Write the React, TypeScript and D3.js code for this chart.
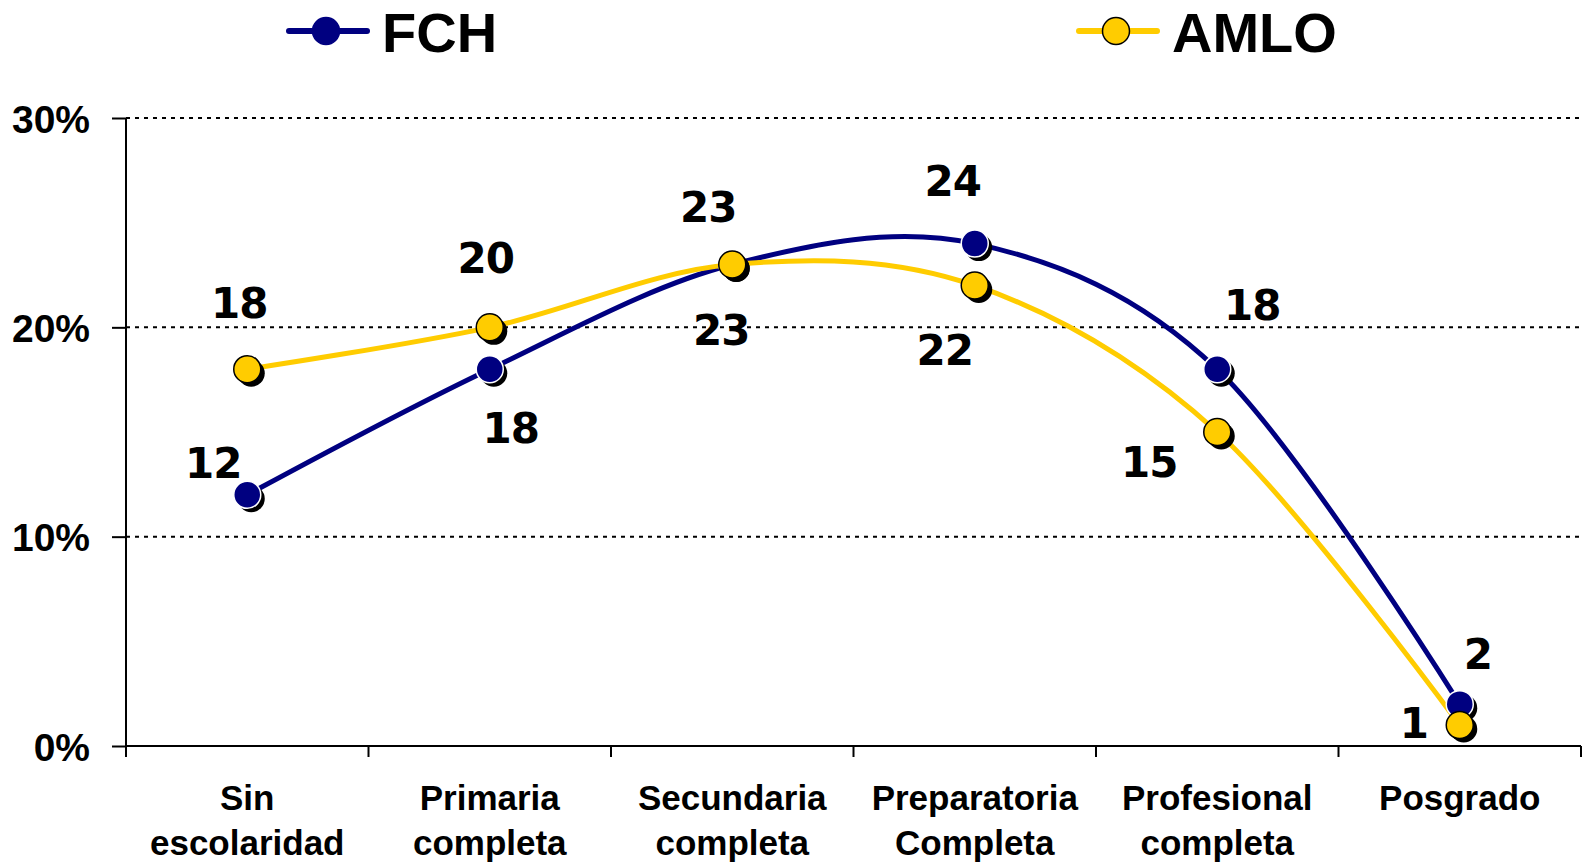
import * as d3 from "d3";
import { useEffect, useRef } from "react";

// datos del grafico
const categories = [
    ["Sin", "escolaridad"],
    ["Primaria", "completa"],
    ["Secundaria", "completa"],
    ["Preparatoria", "Completa"],
    ["Profesional", "completa"],
    ["Posgrado"]
];
const fchValues = [12, 18, 23, 24, 18, 2];
const amloValues = [18, 20, 23, 22, 15, 1];
const yTicks = [0, 10, 20, 30];

// desplazamiento de las etiquetas respecto al punto (centro del texto)
const fchLabelOffsets = [[-34, -33], [21, 58], [-11, 64], [-22, -64], [35, -65], [18, -51]];
const amloLabelOffsets = [[-8, -67], [-4, -70], [-24, -59], [-30, 64], [-68, 29], [-46, -3]];

const WIDTH = 1583;
const HEIGHT = 863;

const App = () => {
    const chartRef = useRef<SVGSVGElement | null>(null);

    useEffect(() => {
        document.body.style.margin = "0";
        const svg = d3.select(chartRef.current);
        svg.selectAll("*").remove();

        const left = 126;
        const right = 1581;
        const top = 118;
        const bottom = 746;

        const scaleX = d3
            .scaleBand()
            .domain(categories.map(d => d.join(" ")))
            .range([left, right]);
        const scaleY = d3.scaleLinear().domain([0, 30]).range([bottom, top]);
        const cx = (i: number) => scaleX(categories[i].join(" "))! + scaleX.bandwidth() / 2;

        const axisFont = "'Liberation Sans', Arial, sans-serif";

        // lineas de cuadricula punteadas
        svg.selectAll("line.grid")
            .data(yTicks.filter(t => t > 0))
            .enter()
            .append("line")
            .attr("x1", left)
            .attr("x2", right)
            .attr("y1", d => scaleY(d))
            .attr("y2", d => scaleY(d))
            .style("stroke", "#000")
            .style("stroke-width", 2)
            .style("stroke-dasharray", "4,5");

        // eje Y
        const yAxis = d3.axisLeft(scaleY)
            .tickValues(yTicks)
            .tickSize(14)
            .tickPadding(22)
            .tickFormat(d => `${d}%`);
        const gy = svg.append("g").attr("transform", `translate(${left},0)`).call(yAxis);
        gy.select(".domain").remove();
        gy.selectAll("line").style("stroke", "#000").style("stroke-width", 2);
        gy.selectAll("text")
            .style("font-family", axisFont)
            .style("font-weight", "bold")
            .style("font-size", "39px")
            .attr("dy", "0.36em")
            .style("fill", "#000");
        svg.append("line")
            .attr("x1", left).attr("x2", left)
            .attr("y1", top).attr("y2", bottom + 11)
            .style("stroke", "#000").style("stroke-width", 2);

        // eje X
        svg.append("line")
            .attr("x1", left).attr("x2", right)
            .attr("y1", bottom).attr("y2", bottom)
            .style("stroke", "#000").style("stroke-width", 2);
        const boundaries = categories.map((_, i) => scaleX(categories[i].join(" "))!).concat([right]);
        svg.selectAll("line.xtick")
            .data(boundaries)
            .enter()
            .append("line")
            .attr("x1", d => d).attr("x2", d => d)
            .attr("y1", bottom).attr("y2", bottom + 11)
            .style("stroke", "#000").style("stroke-width", 2);

        categories.forEach((lines, i) => {
            const t = svg.append("text")
                .attr("x", cx(i))
                .attr("y", 810)
                .attr("text-anchor", "middle")
                .style("font-family", axisFont)
                .style("font-weight", "bold")
                .style("font-size", "35px")
                .style("fill", "#000");
            lines.forEach((l, j) => {
                t.append("tspan").attr("x", cx(i)).attr("dy", j === 0 ? 0 : 45).text(l);
            });
        });

        const line = d3.line<number>()
            .x((_, i) => cx(i))
            .y(d => scaleY(d))
            .curve(d3.curveCardinal.tension(0));

        const series = [
            { values: fchValues, color: "#000080", outline: "#fff", offsets: fchLabelOffsets },
            { values: amloValues, color: "#FFCC00", outline: "#000", offsets: amloLabelOffsets }
        ];

        series.forEach(s => {
            svg.append("path")
                .datum(s.values)
                .attr("d", line)
                .style("fill", "none")
                .style("stroke", s.color)
                .style("stroke-width", 5);
        });

        series.forEach(s => {
            const g = svg.append("g");
            g.selectAll("circle.shadow")
                .data(s.values)
                .enter()
                .append("circle")
                .attr("cx", (_, i) => cx(i) + 4)
                .attr("cy", d => scaleY(d) + 4)
                .attr("r", 13.5)
                .style("fill", "#000");
            g.selectAll("circle.marker")
                .data(s.values)
                .enter()
                .append("circle")
                .attr("cx", (_, i) => cx(i))
                .attr("cy", d => scaleY(d))
                .attr("r", 13.5)
                .style("fill", s.color)
                .style("stroke", s.outline)
                .style("stroke-width", 1.5);
        });

        // etiquetas de datos
        series.forEach(s => {
            svg.selectAll(null)
                .data(s.values)
                .enter()
                .append("text")
                .attr("x", (_, i) => cx(i) + s.offsets[i][0])
                .attr("y", (d, i) => scaleY(d) + s.offsets[i][1] + 16)
                .attr("text-anchor", "middle")
                .style("font-family", "'DejaVu Sans', Verdana, sans-serif")
                .style("font-weight", "bold")
                .style("font-size", "42px")
                .style("letter-spacing", "-1px")
                .style("fill", "#000")
                .text(d => d);
        });

        // leyenda
        const legend = [
            { name: "FCH", color: "#000080", outline: "#000080", x: 289 },
            { name: "AMLO", color: "#FFCC00", outline: "#000", x: 1079 }
        ];
        legend.forEach(l => {
            const g = svg.append("g").attr("transform", `translate(${l.x},31)`);
            g.append("line")
                .attr("x1", 0).attr("x2", 78)
                .attr("y1", 0).attr("y2", 0)
                .style("stroke", l.color)
                .style("stroke-width", 6)
                .style("stroke-linecap", "round");
            g.append("circle")
                .attr("cx", 37).attr("cy", 0).attr("r", 13.5)
                .style("fill", l.color)
                .style("stroke", l.outline)
                .style("stroke-width", 1.5);
            g.append("text")
                .attr("x", 93).attr("y", 21)
                .style("font-family", axisFont)
                .style("font-weight", "bold")
                .style("font-size", "56px")
                .style("fill", "#000")
                .text(l.name);
        });
    }, []);

    return <svg ref={chartRef} width={WIDTH} height={HEIGHT} style={{ display: "block", background: "#fff" }}></svg>;
};

export default App;
